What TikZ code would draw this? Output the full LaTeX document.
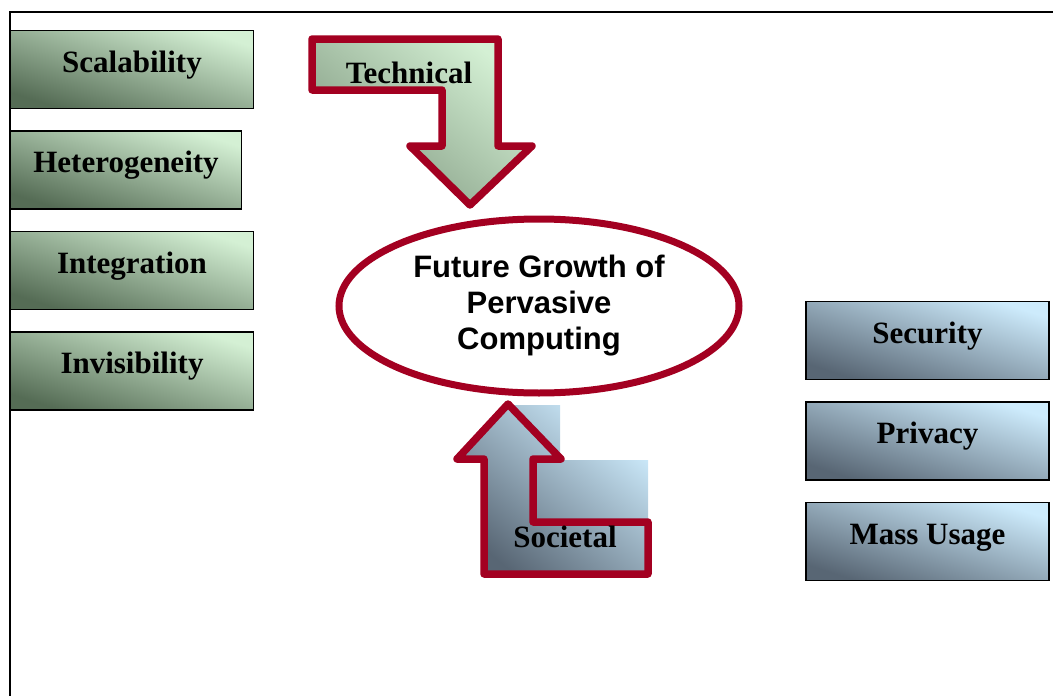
\documentclass[tikz,border=0pt]{standalone}
\usepackage{fontspec}
\setmainfont{Liberation Serif}
\newfontfamily\arialfont{Liberation Sans}
\usepackage{tikz}
\usetikzlibrary{
  shapes.geometric,
  positioning
}
\definecolor{greenlight}{RGB}{212,240,212}
\definecolor{greendark}{RGB}{85,108,85}
\definecolor{greenmid}{RGB}{128,152,128}
\definecolor{bluelight}{RGB}{205,235,252}
\definecolor{bluedark}{RGB}{88,102,116}
\definecolor{arrowred}{RGB}{163,0,33}
\newcommand\boxfont{\fontsize{31}{36}\selectfont\bfseries}
\tikzset{
  greenbox/.style={
    rectangle, draw=black, line width=1.5pt,
    top color=greenlight, bottom color=greendark, shading angle=-18,
    minimum width=243pt, minimum height=78pt,
    inner sep=0pt, outer sep=0pt,
    text height=20pt, text depth=15pt, font=\boxfont
  },
  bluebox/.style={
    greenbox, top color=bluelight, bottom color=bluedark, shading angle=-18
  },
  hub/.style={
    ellipse, draw=arrowred, line width=7pt, fill=white,
    minimum width=400pt, minimum height=174pt, align=center,
    font=\arialfont\fontsize{31}{36}\selectfont\bfseries
  },
  blockarrow/.style={draw=arrowred, line width=7.5pt, line join=round},
  arrowlabel/.style={anchor=base, inner sep=0pt, font=\boxfont},
  frame/.style={draw=black, line width=1.5pt},
}

\begin{document}
\begin{tikzpicture}[x=1pt, y=-1pt]
		\useasboundingbox (0,0) rectangle (1053,696);

		%% ── Frame ──
		\draw[frame] (1053,12) -| (10,696);

		%% ── Technical challenges ──
		\node[greenbox] (scal) at (132,69.5) {Scalability};
		\node[greenbox, minimum width=231pt,
		below=22.5pt of scal.south west, anchor=north west]
		(hetero) {Heterogeneity};
		\node[greenbox, below=22.5pt of hetero.south west, anchor=north west]
		(integ)  {Integration};
		\node[greenbox, below=22.5pt of integ.south west, anchor=north west]
		(invis)  {Invisibility};

		%% ── Societal challenges ──
		\node[bluebox] (secur) at (927.5,340.5) {Security};
		\node[bluebox, below=22.5pt of secur] (priv) {Privacy};
		\node[bluebox, below=22.5pt of priv]  (mass) {Mass Usage};

		%% ── Technical arrow ──
		\path[blockarrow, top color=greenlight, bottom color=greenmid, shading angle=-40]
		(312,39) -- (498,39) -- (498,146) -- (532,146) -- (470,205)
		-- (410,146) -- (442,146) -- (442,90) -- (312,90) -- cycle;
		\node[arrowlabel] (tech) at (409,83) {Technical};

		%% ── Societal arrow ──
		\shade[top color=bluelight, bottom color=bluedark, shading angle=-40]
		(508,405) -- (560,405) -- (560,460) -- (648,460) -- (648,574)
		-- (484,574) -- (484,459) -- (457,459) -- cycle;
		\draw[blockarrow]
		(508,404) -- (561,459) -- (533,459) -- (533,522) -- (648,522)
		-- (648,574) -- (484,574) -- (484,459) -- (457,459) -- cycle;
		\node[arrowlabel] (soc) at (565,547) {Societal};

		%% ── Centre ──
		\node[hub] (growth) at (539,306)
		{Future Growth of\\Pervasive\\Computing};

	\end{tikzpicture}
\end{document}
